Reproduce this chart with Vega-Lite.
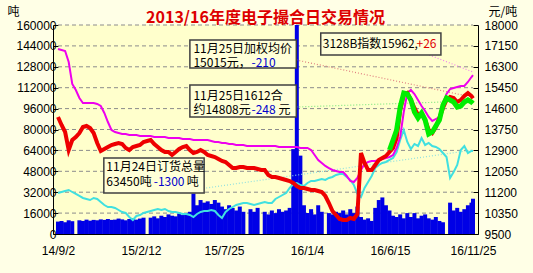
{
"$schema": "https://vega.github.io/schema/vega-lite/v6.json",
"width": 425, "height": 209,
"autosize": {"type": "none"},
"padding": {"left": 53, "top": 25, "right": 55, "bottom": 39},
"background": "#ffffe6",
"title": {"text": "2013/16年度电子撮合日交易情况", "color": "#dd0000", "font": "Noto Sans CJK SC", "fontSize": 16, "fontWeight": "bold", "anchor": "middle", "offset": -21},
"config": {
  "view": {"fill": "#ffffcc", "stroke": null},
  "axis": {"labelFont": "Liberation Sans", "labelFontSize": 12, "labelColor": "#000000", "domainColor": "#000000", "tickColor": "#000000", "titleFont": "Noto Sans CJK SC", "titleFontSize": 12, "titleFontWeight": "normal", "titleColor": "#000000", "labelOverlap": false}
},
"datasets": {
"main": [
{"d":"2014-09-02","vol":9500,"ord":31390,"idx":17024,"avg":14258},
{"d":"2014-09-09","vol":10000,"ord":32155,"idx":16983,"avg":13933},
{"d":"2014-09-16","vol":9000,"ord":32921,"idx":16943,"avg":13648},
{"d":"2014-09-23","vol":10500,"ord":33686,"idx":16495,"avg":12916},
{"d":"2014-09-30","vol":9800,"ord":32155,"idx":15600,"avg":13323},
{"d":"2014-10-07","vol":0,"ord":30624,"idx":15356,"avg":13445},
{"d":"2014-10-14","vol":10500,"ord":29093,"idx":15031,"avg":13608},
{"d":"2014-10-21","vol":10000,"ord":27562,"idx":14828,"avg":13852},
{"d":"2014-10-28","vol":11000,"ord":26796,"idx":14828,"avg":13892},
{"d":"2014-11-04","vol":10200,"ord":26030,"idx":14828,"avg":13811},
{"d":"2014-11-11","vol":10800,"ord":27562,"idx":14828,"avg":13608},
{"d":"2014-11-18","vol":10500,"ord":26796,"idx":14787,"avg":13201},
{"d":"2014-11-25","vol":11200,"ord":24499,"idx":14706,"avg":12876},
{"d":"2014-12-02","vol":10800,"ord":22202,"idx":14421,"avg":12957},
{"d":"2014-12-09","vol":11500,"ord":20671,"idx":14055,"avg":13038},
{"d":"2014-12-16","vol":10800,"ord":20671,"idx":13730,"avg":13120},
{"d":"2014-12-23","vol":11000,"ord":19906,"idx":13648,"avg":13160},
{"d":"2014-12-30","vol":11800,"ord":18374,"idx":13608,"avg":13201},
{"d":"2015-01-06","vol":11200,"ord":16843,"idx":13567,"avg":13160},
{"d":"2015-01-13","vol":10500,"ord":16078,"idx":13567,"avg":12998},
{"d":"2015-01-20","vol":11500,"ord":13015,"idx":13526,"avg":12916},
{"d":"2015-01-27","vol":12000,"ord":10718,"idx":13526,"avg":13038},
{"d":"2015-02-03","vol":11000,"ord":13781,"idx":13526,"avg":13079},
{"d":"2015-02-10","vol":11800,"ord":14546,"idx":13486,"avg":13120},
{"d":"2015-02-17","vol":12500,"ord":16078,"idx":13486,"avg":13242},
{"d":"2015-02-24","vol":0,"ord":16843,"idx":13486,"avg":13282},
{"d":"2015-03-03","vol":12500,"ord":17609,"idx":13486,"avg":13323},
{"d":"2015-03-10","vol":13500,"ord":18374,"idx":13445,"avg":13160},
{"d":"2015-03-17","vol":12000,"ord":19140,"idx":13445,"avg":13038},
{"d":"2015-03-24","vol":14000,"ord":18374,"idx":13445,"avg":12916},
{"d":"2015-03-31","vol":13000,"ord":19140,"idx":13445,"avg":12835},
{"d":"2015-04-07","vol":15000,"ord":17609,"idx":13404,"avg":12835},
{"d":"2015-04-14","vol":14000,"ord":16843,"idx":13404,"avg":12713},
{"d":"2015-04-21","vol":13500,"ord":16843,"idx":13404,"avg":12835},
{"d":"2015-04-28","vol":15500,"ord":16078,"idx":13404,"avg":12957},
{"d":"2015-05-05","vol":14500,"ord":15312,"idx":13364,"avg":13038},
{"d":"2015-05-12","vol":16000,"ord":15312,"idx":13364,"avg":13079},
{"d":"2015-05-19","vol":17000,"ord":14546,"idx":13364,"avg":12916},
{"d":"2015-05-26","vol":31000,"ord":13015,"idx":13323,"avg":12794},
{"d":"2015-06-02","vol":22000,"ord":15312,"idx":13323,"avg":12835},
{"d":"2015-06-09","vol":26000,"ord":16843,"idx":13323,"avg":12916},
{"d":"2015-06-16","vol":24000,"ord":17609,"idx":13323,"avg":12835},
{"d":"2015-06-23","vol":25000,"ord":17609,"idx":13323,"avg":12713},
{"d":"2015-06-30","vol":23000,"ord":18374,"idx":13282,"avg":12672},
{"d":"2015-07-07","vol":26000,"ord":17609,"idx":13242,"avg":12632},
{"d":"2015-07-14","vol":24000,"ord":14546,"idx":13242,"avg":12550},
{"d":"2015-07-21","vol":21000,"ord":12250,"idx":13201,"avg":12469},
{"d":"2015-07-28","vol":19000,"ord":16843,"idx":13201,"avg":12428},
{"d":"2015-08-04","vol":22000,"ord":19140,"idx":13160,"avg":12306},
{"d":"2015-08-11","vol":20000,"ord":20671,"idx":13160,"avg":12184},
{"d":"2015-08-18","vol":18000,"ord":22202,"idx":13120,"avg":12184},
{"d":"2015-08-25","vol":21000,"ord":22968,"idx":13120,"avg":12225},
{"d":"2015-09-01","vol":17000,"ord":23734,"idx":13120,"avg":12225},
{"d":"2015-09-08","vol":0,"ord":23734,"idx":13079,"avg":12184},
{"d":"2015-09-15","vol":19000,"ord":22968,"idx":13079,"avg":12184},
{"d":"2015-09-22","vol":17000,"ord":22202,"idx":13079,"avg":12184},
{"d":"2015-09-29","vol":20000,"ord":22968,"idx":13079,"avg":12143},
{"d":"2015-10-06","vol":0,"ord":23734,"idx":13079,"avg":12103},
{"d":"2015-10-13","vol":17000,"ord":24499,"idx":13079,"avg":12103},
{"d":"2015-10-20","vol":15000,"ord":23734,"idx":13079,"avg":11900},
{"d":"2015-10-27","vol":18000,"ord":23734,"idx":13079,"avg":11818},
{"d":"2015-11-03","vol":16000,"ord":26796,"idx":13079,"avg":11818},
{"d":"2015-11-10","vol":19000,"ord":28327,"idx":13038,"avg":11778},
{"d":"2015-11-17","vol":17000,"ord":29858,"idx":13038,"avg":11737},
{"d":"2015-11-24","vol":18000,"ord":31390,"idx":13038,"avg":11696},
{"d":"2015-12-01","vol":20000,"ord":35218,"idx":13038,"avg":11656},
{"d":"2015-12-08","vol":65000,"ord":38280,"idx":13038,"avg":11574},
{"d":"2015-12-15","vol":160000,"ord":39046,"idx":13038,"avg":11452},
{"d":"2015-12-22","vol":60000,"ord":37514,"idx":12998,"avg":11371},
{"d":"2015-12-29","vol":22000,"ord":36749,"idx":12998,"avg":11371},
{"d":"2016-01-05","vol":16000,"ord":39046,"idx":12998,"avg":11330},
{"d":"2016-01-12","vol":19000,"ord":40577,"idx":12916,"avg":11290},
{"d":"2016-01-19","vol":15000,"ord":40577,"idx":12713,"avg":11290},
{"d":"2016-01-26","vol":22000,"ord":41342,"idx":12510,"avg":11249},
{"d":"2016-02-02","vol":17000,"ord":42108,"idx":12388,"avg":11208},
{"d":"2016-02-09","vol":0,"ord":41342,"idx":12266,"avg":11045},
{"d":"2016-02-16","vol":16000,"ord":42874,"idx":12184,"avg":10761},
{"d":"2016-02-23","vol":15000,"ord":43639,"idx":12103,"avg":10435},
{"d":"2016-03-01","vol":17000,"ord":45170,"idx":12062,"avg":10273},
{"d":"2016-03-08","vol":16000,"ord":45936,"idx":12021,"avg":10110},
{"d":"2016-03-15","vol":18000,"ord":45936,"idx":12021,"avg":10069},
{"d":"2016-03-22","vol":15000,"ord":43639,"idx":11859,"avg":10069},
{"d":"2016-03-29","vol":19000,"ord":41342,"idx":11656,"avg":10151},
{"d":"2016-04-05","vol":16000,"ord":37514,"idx":11615,"avg":10110},
{"d":"2016-04-12","vol":21000,"ord":30624,"idx":11778,"avg":10313},
{"d":"2016-04-19","vol":13000,"ord":28327,"idx":12103,"avg":12794},
{"d":"2016-04-26","vol":11000,"ord":35218,"idx":12347,"avg":12388},
{"d":"2016-05-03","vol":12000,"ord":39811,"idx":12428,"avg":12103},
{"d":"2016-05-10","vol":10000,"ord":44405,"idx":12469,"avg":12103},
{"d":"2016-05-17","vol":20000,"ord":50530,"idx":12469,"avg":12306},
{"d":"2016-05-24","vol":26000,"ord":52826,"idx":12510,"avg":12510},
{"d":"2016-05-31","vol":28000,"ord":54358,"idx":12550,"avg":12591},
{"d":"2016-06-07","vol":22000,"ord":55123,"idx":12591,"avg":12672},
{"d":"2016-06-14","vol":18000,"ord":56654,"idx":12632,"avg":12835,"c":12916},
{"d":"2016-06-21","vol":14000,"ord":58186,"idx":12713,"avg":12998,"c":13323},
{"d":"2016-06-28","vol":13000,"ord":62779,"idx":12998,"avg":13404,"c":13730},
{"d":"2016-07-05","vol":15000,"ord":71966,"idx":13445,"avg":14543,"c":14665},
{"d":"2016-07-12","vol":12000,"ord":79622,"idx":14462,"avg":15153,"c":15234},
{"d":"2016-07-19","vol":16000,"ord":70435,"idx":15234,"avg":15234,"c":15194},
{"d":"2016-07-26","vol":13000,"ord":65076,"idx":15356,"avg":14950,"c":14950},
{"d":"2016-08-02","vol":16000,"ord":68904,"idx":15194,"avg":14624,"c":14462},
{"d":"2016-08-09","vol":12000,"ord":67373,"idx":14950,"avg":14340,"c":14218},
{"d":"2016-08-16","vol":14000,"ord":73498,"idx":14706,"avg":14421,"c":14421},
{"d":"2016-08-23","vol":15000,"ord":68138,"idx":14502,"avg":14136,"c":14136},
{"d":"2016-08-30","vol":12000,"ord":69670,"idx":14258,"avg":13730,"c":13567},
{"d":"2016-09-06","vol":11000,"ord":67373,"idx":14096,"avg":13608,"c":13648},
{"d":"2016-09-13","vol":13000,"ord":66607,"idx":14177,"avg":13852,"c":13892},
{"d":"2016-09-20","vol":10000,"ord":65076,"idx":14258,"avg":14218,"c":14136},
{"d":"2016-09-27","vol":9000,"ord":62014,"idx":14828,"avg":14624,"c":14746},
{"d":"2016-10-04","vol":0,"ord":58951,"idx":15194,"avg":14950,"c":15031},
{"d":"2016-10-11","vol":24000,"ord":42874,"idx":15397,"avg":15072,"c":14950},
{"d":"2016-10-18","vol":18000,"ord":47467,"idx":15437,"avg":15031,"c":14868},
{"d":"2016-10-25","vol":20000,"ord":52826,"idx":15478,"avg":14868,"c":14665},
{"d":"2016-11-01","vol":17000,"ord":64310,"idx":15519,"avg":14950,"c":14705},
{"d":"2016-11-08","vol":19000,"ord":67373,"idx":15519,"avg":15112,"c":14868},
{"d":"2016-11-15","vol":22000,"ord":62014,"idx":15682,"avg":15234,"c":14950},
{"d":"2016-11-22","vol":24000,"ord":63545,"idx":15885,"avg":15112,"c":14868},
{"d":"2016-11-25","vol":27000,"ord":63450,"idx":15962,"avg":15015,"c":14808}
],
"gridlines": [
{"g":16000,"d":"2014-09-02","d2":"2016-11-25"},{"g":32000,"d":"2014-09-02","d2":"2016-11-25"},{"g":48000,"d":"2014-09-02","d2":"2016-11-25"},
{"g":64000,"d":"2014-09-02","d2":"2016-11-25"},{"g":80000,"d":"2014-09-02","d2":"2016-11-25"},{"g":96000,"d":"2014-09-02","d2":"2016-11-25"},
{"g":112000,"d":"2014-09-02","d2":"2016-11-25"},{"g":128000,"d":"2014-09-02","d2":"2016-11-25"},{"g":144000,"d":"2014-09-02","d2":"2016-11-25"},
{"g":160000,"d":"2014-09-02","d2":"2016-11-25"}
],
"boxes": [
{"d":"2015-05-19","d2":"2015-12-14","v":148517,"v2":127081},
{"d":"2015-05-19","d2":"2015-12-14","v":114070,"v2":89570},
{"d":"2016-01-31","d2":"2016-09-23","v":153880,"v2":137040},
{"d":"2014-12-01","d2":"2015-06-16","v":58180,"v2":31390}
],
"links": [
{"s":"avg","d":"2015-12-14","d2":"2016-11-04","v":133206,"v2":106411},
{"s":"c1612","d":"2015-12-14","d2":"2016-11-25","v":97225,"v2":101818},
{"s":"idx","d":"2016-08-31","d2":"2016-11-25","v":137033,"v2":124019},
{"s":"ord","d":"2015-06-20","d2":"2016-11-25","v":35215,"v2":64306}
],
"notes": [
{"t":"11月25日加权均价","d":"2015-05-26","v":141627,"role":"label"},
{"t":"15015元，","d":"2015-05-26","v":130909,"role":"label"},
{"t":"-210","d":"2015-09-17","v":130909,"role":"down"},
{"t":"11月25日1612合","d":"2015-05-26","v":105646,"role":"label"},
{"t":"约14808元","d":"2015-05-26","v":94928,"role":"label"},
{"t":"-248","d":"2015-09-17","v":94928,"role":"down"},
{"t":"元","d":"2015-11-09","v":94928,"role":"label"},
{"t":"3128B指数15962,","d":"2016-02-04","v":145460,"role":"label"},
{"t":"+26","d":"2016-08-06","v":145460,"role":"up"},
{"t":"11月24日订货总量","d":"2014-12-06","v":51290,"role":"label"},
{"t":"63450吨","d":"2014-12-06","v":39810,"role":"label"},
{"t":"-1300","d":"2015-03-09","v":39810,"role":"down"},
{"t":"吨","d":"2015-05-13","v":39810,"role":"label"}
]
},
"layer": [
  {"layer": [
    {"data": {"name": "gridlines"}, "mark": {"type": "rule", "color": "#8c8c8c", "strokeDash": [4, 3], "strokeWidth": 1},
     "encoding": {
       "x": {"field": "d", "type": "temporal"},
       "x2": {"field": "d2"},
       "y": {"field": "g", "type": "quantitative", "scale": {"domain": [0, 160000], "nice": false}},
       "y2": {"field": "g"}}},
    {"data": {"name": "main"}, "mark": {"type": "bar", "color": "#0000e6", "size": 4, "clip": true},
     "encoding": {
       "x": {"field": "d", "type": "temporal",
         "scale": {"type": "utc", "nice": false, "domain": [{"year":2014,"month":9,"date":2,"utc":true},{"year":2016,"month":11,"date":25,"utc":true}]},
         "axis": {"title": null, "values": [{"year":2014,"month":9,"date":2,"utc":true},{"year":2015,"month":2,"date":12,"utc":true},{"year":2015,"month":7,"date":25,"utc":true},{"year":2016,"month":1,"date":4,"utc":true},{"year":2016,"month":6,"date":15,"utc":true},{"year":2016,"month":11,"date":25,"utc":true}],
           "tickCount": 20, "format": "%y/%-m/%-d", "ticks": false, "labelPadding": 11, "grid": false, "labelFlush": false, "labelOverlap": false}},
       "y": {"field": "vol", "type": "quantitative", "scale": {"domain": [0, 160000], "nice": false},
       "axis": {"orient": "left", "values": [0,16000,32000,48000,64000,80000,96000,112000,128000,144000,160000], "tickCount": 20, "format": "d",
         "title": "吨", "titleAngle": 0, "titleX": -46, "titleY": -7, "titleAlign": "left", "titleBaseline": "bottom",
         "tickSize": -5, "labelPadding": 2, "grid": false, "labelOverlap": false}}}},
    {"data": {"name": "links"}, "mark": {"type": "rule", "strokeDash": [1, 2], "strokeWidth": 1.2},
     "encoding": {"x": {"field": "d", "type": "temporal"}, "x2": {"field": "d2"}, "y": {"field": "v", "type": "quantitative", "scale": {"domain": [0, 160000], "nice": false}}, "y2": {"field": "v2"},
       "color": {"field": "s", "type": "nominal", "legend": null, "scale": {"domain": ["avg", "c1612", "idx", "ord"], "range": ["#e08080", "#80e880", "#f080f0", "#90e0e0"]}}}},
    {"data": {"name": "main"}, "mark": {"type": "line", "color": "#40e0e0", "strokeWidth": 2},
     "encoding": {"x": {"field": "d", "type": "temporal"}, "y": {"field": "ord", "type": "quantitative", "scale": {"domain": [0, 160000], "nice": false}}}},
    {"data": {"name": "boxes"}, "mark": {"type": "rect", "fill": "#ffffd8", "stroke": "#404040", "strokeWidth": 1.5},
     "encoding": {"x": {"field": "d", "type": "temporal"}, "x2": {"field": "d2"}, "y": {"field": "v", "type": "quantitative", "scale": {"domain": [0, 160000], "nice": false}}, "y2": {"field": "v2"}}},
    {"data": {"name": "notes"}, "mark": {"type": "text", "align": "left", "baseline": "middle", "font": "Noto Sans CJK SC", "fontSize": 12},
     "encoding": {"x": {"field": "d", "type": "temporal"}, "y": {"field": "v", "type": "quantitative", "scale": {"domain": [0, 160000], "nice": false}}, "text": {"field": "t"},
       "color": {"field": "role", "type": "nominal", "legend": null, "scale": {"domain": ["label", "down", "up"], "range": ["#000000", "#0000cc", "#e00000"]}}}}
  ], "resolve": {"scale": {"color": "independent"}}},
  {"data": {"name": "main"}, "layer": [
    {"mark": {"type": "line", "color": "#ee00ee", "strokeWidth": 2},
     "encoding": {"x": {"field": "d", "type": "temporal"}, "y": {"field": "idx", "type": "quantitative", "scale": {"domain": [9500, 18000], "nice": false, "zero": false},
       "axis": {"orient": "right", "values": [9500,10350,11200,12050,12900,13750,14600,15450,16300,17150,18000], "tickCount": 20, "format": "d",
         "title": "元/吨", "titleAngle": 0, "titleX": 10, "titleY": -7, "titleAlign": "left", "titleBaseline": "bottom",
         "tickSize": -5, "labelPadding": 11, "grid": false, "labelOverlap": false}}}},
    {"mark": {"type": "line", "color": "#ee0000", "strokeWidth": 4},
     "encoding": {"x": {"field": "d", "type": "temporal"}, "y": {"field": "avg", "type": "quantitative", "scale": {"domain": [9500, 18000], "nice": false, "zero": false}}}},
    {"mark": {"type": "line", "color": "#00ee00", "strokeWidth": 5},
     "encoding": {"x": {"field": "d", "type": "temporal"}, "y": {"field": "c", "type": "quantitative", "scale": {"domain": [9500, 18000], "nice": false, "zero": false}}}}
  ]}
],
"resolve": {"scale": {"y": "independent"}}
}
